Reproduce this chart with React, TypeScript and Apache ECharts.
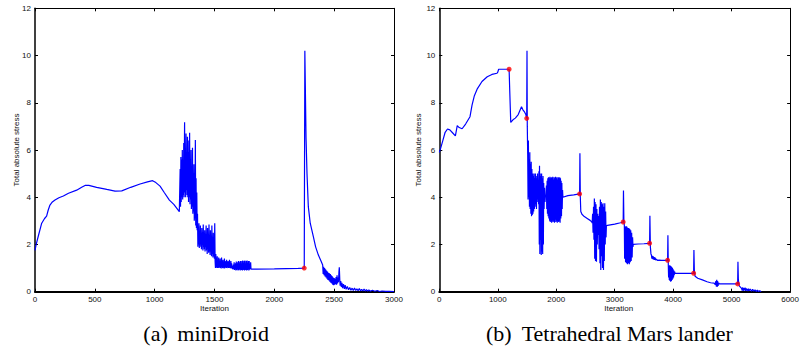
import React, { useEffect, useRef } from "react";
import * as echarts from "echarts";

// ---------- miniDroid (a) ----------
const droidRise: [number, number][] = [
  [0, 1.75], [10, 2.0], [30, 2.4], [56, 2.9], [80, 3.1], [97, 3.2], [110, 3.45], [125, 3.67], [145, 3.8],
  [167, 3.88], [200, 3.98], [237, 4.05], [280, 4.17], [348, 4.3], [390, 4.42], [418, 4.5], [450, 4.5],
  [515, 4.42], [600, 4.33], [669, 4.26], [725, 4.27], [800, 4.42], [878, 4.56], [940, 4.65], [983, 4.7],
  [1010, 4.62], [1045, 4.47], [1080, 4.2], [1123, 3.88], [1160, 3.7], [1206, 3.39],
];
const droidBurst1: [number, number][] = [
  [1210, 3.4], [1213, 5.2], [1216, 3.6], [1219, 5.7], [1222, 3.8], [1225, 5.6], [1228, 4.0], [1231, 6.0],
  [1234, 3.9], [1237, 5.4], [1240, 4.1], [1243, 6.3], [1246, 4.0], [1250, 7.17], [1253, 4.2], [1256, 5.8],
  [1259, 4.0], [1262, 6.7], [1265, 4.3], [1268, 5.5], [1271, 4.1], [1274, 6.56], [1277, 4.0], [1280, 5.9],
  [1283, 3.8], [1286, 6.4], [1289, 4.0], [1292, 6.73], [1295, 3.7], [1298, 5.6], [1301, 3.9], [1304, 6.0],
  [1307, 3.5], [1310, 5.2], [1313, 3.6], [1316, 6.1], [1319, 3.3], [1322, 5.0], [1325, 3.4], [1328, 5.4],
  [1331, 3.0], [1334, 4.6], [1337, 3.1], [1340, 6.42], [1343, 2.8], [1346, 4.8], [1349, 2.7], [1352, 4.2],
  [1355, 2.6],
];
const droidBurst2: [number, number][] = [
  [1358, 3.3], [1361, 1.9], [1364, 2.7], [1367, 2.0], [1370, 2.9], [1373, 1.85], [1376, 2.5], [1379, 2.0],
  [1382, 2.8], [1385, 1.9], [1388, 2.4], [1391, 1.8], [1394, 2.7], [1397, 2.0], [1400, 2.5], [1403, 1.75],
  [1406, 2.85], [1409, 1.9], [1412, 2.3], [1415, 1.8], [1418, 2.6], [1421, 1.7], [1424, 2.4], [1427, 1.9],
  [1430, 2.8], [1433, 1.75], [1436, 2.3], [1439, 1.6], [1442, 2.7], [1445, 1.8], [1448, 2.2], [1451, 1.65],
  [1454, 2.85], [1457, 1.7], [1460, 2.3], [1463, 1.55], [1466, 2.6], [1469, 1.7], [1472, 2.1], [1475, 1.5],
  [1478, 2.8], [1481, 1.6], [1484, 2.2], [1487, 1.45], [1490, 2.5], [1493, 1.5], [1496, 2.0], [1499, 1.4],
  [1502, 2.9], [1505, 1.3],
];
const droidBurst3: [number, number][] = [
  [1508, 1.0], [1511, 1.6], [1514, 1.0], [1517, 1.45], [1520, 1.05], [1523, 1.5], [1526, 1.0], [1529, 1.3],
  [1532, 1.02], [1535, 1.45], [1538, 1.0], [1541, 1.25], [1544, 1.05], [1547, 1.4], [1550, 1.0], [1553, 1.3],
  [1556, 0.98], [1559, 1.45], [1562, 1.05], [1565, 1.2], [1568, 1.0], [1571, 1.35], [1574, 1.02], [1577, 1.25],
  [1580, 0.98], [1583, 1.4], [1586, 1.0], [1589, 1.2], [1592, 1.05], [1595, 1.3], [1598, 1.0], [1601, 1.35],
  [1604, 1.0], [1607, 1.2], [1610, 1.05], [1613, 1.3], [1616, 1.0], [1619, 1.25], [1622, 1.02], [1625, 1.35],
  [1628, 1.0], [1631, 1.15], [1634, 1.0], [1637, 1.3], [1640, 0.98], [1643, 1.2], [1646, 1.0], [1649, 1.1],
  [1652, 0.95],
];
const droidBurst4: [number, number][] = [
  [1655, 1.0], [1658, 1.15], [1661, 0.95], [1664, 1.25], [1667, 0.92], [1670, 1.1], [1673, 0.95], [1676, 1.2],
  [1679, 0.9], [1682, 1.28], [1685, 0.92], [1688, 1.05], [1691, 0.95], [1694, 1.25], [1697, 0.9], [1700, 1.3],
  [1703, 0.92], [1706, 1.1], [1709, 0.95], [1712, 1.28], [1715, 0.9], [1718, 1.3], [1721, 0.93], [1724, 1.05],
  [1727, 0.92], [1730, 1.3], [1733, 0.9], [1736, 1.32], [1739, 0.92], [1742, 1.1], [1745, 0.93], [1748, 1.3],
  [1751, 0.9], [1754, 1.32], [1757, 0.92], [1760, 1.05], [1763, 0.93], [1766, 1.3], [1769, 0.9], [1772, 1.32],
  [1775, 0.92], [1778, 1.1], [1781, 0.94], [1784, 1.3], [1787, 0.9], [1790, 1.3], [1793, 0.93], [1796, 1.15],
  [1799, 0.95], [1802, 1.25], [1805, 0.96],
];
const droidPlateau: [number, number][] = [
  [1850, 0.96], [2000, 0.97], [2100, 0.98], [2200, 0.99], [2250, 1.0],
];
const droidSpike: [number, number][] = [
  [2255, 10.2], [2265, 6.5], [2273, 5.0], [2284, 3.6], [2300, 2.9], [2326, 2.33], [2345, 1.9], [2368, 1.55],
  [2390, 1.3], [2404, 1.13],
];
const droidTail: [number, number][] = [
  [2408, 0.75], [2412, 1.05], [2416, 0.7], [2420, 1.0], [2424, 0.65], [2428, 0.95], [2432, 0.6], [2436, 0.9],
  [2440, 0.55], [2444, 0.85], [2448, 0.5], [2452, 0.8], [2456, 0.48], [2460, 0.78], [2464, 0.42], [2468, 0.75],
  [2472, 0.38], [2476, 0.7], [2480, 0.35], [2484, 0.65], [2488, 0.3], [2492, 0.6], [2496, 0.28], [2500, 0.58],
  [2504, 0.3], [2508, 0.55], [2512, 0.32], [2516, 0.62], [2520, 0.3], [2524, 0.7], [2528, 0.35], [2532, 0.6],
  [2536, 0.4], [2540, 0.85], [2543, 1.03], [2547, 0.5], [2550, 0.25], [2555, 0.45], [2560, 0.2], [2565, 0.38],
  [2570, 0.15], [2578, 0.32], [2585, 0.12], [2592, 0.28], [2600, 0.1], [2610, 0.22], [2620, 0.08], [2630, 0.18],
  [2640, 0.06], [2650, 0.15], [2660, 0.05], [2670, 0.16], [2680, 0.05], [2690, 0.12], [2700, 0.04], [2710, 0.13],
  [2720, 0.04], [2730, 0.1], [2740, 0.03], [2750, 0.11], [2760, 0.03], [2770, 0.09], [2780, 0.02], [2790, 0.08],
  [2800, 0.02], [2820, 0.06], [2840, 0.02], [2860, 0.05], [2880, 0.01], [2900, 0.03], [2930, 0.01], [2960, 0.02],
  [3000, 0.0],
];
const droidMarks: [number, number][] = [[2250, 1.0]];

// ---------- Tetrahedral Mars lander (b) ----------
const marsRise: [number, number][] = [
  [0, 5.9], [20, 6.05], [60, 6.4], [100, 6.75], [140, 6.89], [180, 6.85], [230, 6.72], [275, 6.6], [290, 6.8],
  [307, 7.03], [340, 6.95], [390, 6.9], [450, 7.1], [525, 7.41], [560, 7.9], [600, 8.3], [652, 8.6], [730, 8.9],
  [820, 9.1], [900, 9.2], [987, 9.25], [1000, 9.3], [1015, 9.42], [1100, 9.42], [1194, 9.42], [1205, 8.5],
  [1222, 7.17], [1260, 7.28], [1300, 7.35], [1350, 7.5], [1406, 7.83], [1430, 7.7], [1460, 7.6], [1480, 7.5],
  [1495, 7.34], [1500, 10.2], [1505, 7.0],
];
const marsBurstA: [number, number][] = [
  [1512, 5.8], [1518, 3.9], [1524, 6.4], [1530, 4.0], [1536, 5.6], [1542, 3.6], [1548, 5.9], [1554, 3.5],
  [1560, 5.4], [1566, 3.3], [1572, 5.5], [1578, 3.2], [1584, 5.2], [1590, 3.25], [1596, 5.0], [1602, 3.3],
  [1608, 4.9], [1614, 3.4], [1620, 5.0], [1626, 3.5], [1632, 4.8], [1638, 3.6], [1644, 5.0], [1650, 3.7],
  [1656, 4.9], [1662, 3.5], [1668, 4.8], [1674, 3.8], [1680, 5.0], [1686, 3.9], [1692, 4.7], [1698, 3.7],
  [1704, 5.1], [1710, 2.0], [1714, 5.33], [1720, 1.6], [1726, 5.0], [1732, 2.2], [1738, 4.9], [1744, 1.55],
  [1750, 5.0], [1756, 1.7], [1762, 4.8], [1768, 1.6], [1774, 4.9], [1780, 2.0], [1786, 4.6], [1792, 3.5],
  [1800, 4.4], [1808, 3.8], [1816, 4.1], [1824, 4.0],
];
const marsBurstB: [number, number][] = [
  [1832, 4.5], [1838, 3.5], [1844, 4.7], [1850, 3.3], [1856, 4.8], [1862, 3.2], [1868, 4.85], [1874, 3.1],
  [1880, 4.8], [1886, 3.0], [1892, 4.87], [1898, 2.95], [1904, 4.8], [1910, 3.0], [1916, 4.85], [1922, 2.92],
  [1928, 4.8], [1934, 3.0], [1940, 4.87], [1946, 2.95], [1952, 4.75], [1958, 3.0], [1964, 4.85], [1970, 2.92],
  [1976, 4.8], [1982, 3.05], [1988, 4.87], [1994, 2.95], [2000, 4.8], [2006, 3.0], [2012, 4.85], [2018, 2.92],
  [2024, 4.75], [2030, 3.0], [2036, 4.85], [2042, 2.95], [2048, 4.8], [2054, 3.0], [2060, 4.85], [2066, 2.92],
  [2072, 4.8], [2078, 3.1], [2084, 4.7], [2090, 3.2], [2096, 4.6], [2102, 3.5], [2108, 4.3], [2114, 4.0],
  [2200, 4.07], [2300, 4.1], [2400, 4.14], [2405, 5.86], [2412, 4.0], [2420, 3.4], [2440, 3.28], [2480, 3.18],
  [2530, 3.1], [2580, 3.02], [2610, 2.95],
];
const marsBurstC: [number, number][] = [
  [2615, 2.9], [2622, 3.3], [2630, 2.5], [2638, 3.6], [2645, 2.2], [2652, 3.95], [2658, 1.4], [2665, 3.8],
  [2672, 1.3], [2680, 3.7], [2688, 1.27], [2695, 3.5], [2702, 2.0], [2710, 3.3], [2718, 2.4], [2725, 3.2],
  [2732, 1.8], [2740, 3.6], [2748, 1.2], [2755, 3.9], [2762, 0.92], [2770, 3.8], [2778, 1.5], [2785, 3.7],
  [2792, 1.0], [2800, 3.75], [2808, 0.92], [2815, 3.6], [2822, 1.3], [2830, 3.75], [2838, 2.0], [2845, 3.4],
  [2852, 2.3], [2858, 2.8], [2900, 2.82], [3000, 2.86], [3100, 2.92], [3145, 2.95], [3150, 4.28], [3157, 3.0],
  [3165, 2.8],
];
const marsBurstD: [number, number][] = [
  [3170, 1.4], [3178, 2.75], [3186, 1.25], [3194, 2.78], [3202, 1.2], [3210, 2.75], [3218, 1.16], [3226, 2.7],
  [3234, 1.2], [3242, 2.7], [3250, 1.16], [3258, 2.65], [3266, 1.25], [3274, 2.6], [3282, 1.3], [3290, 2.5],
  [3298, 1.45], [3306, 2.3], [3312, 1.9], [3318, 2.0], [3400, 2.02], [3500, 2.03], [3597, 2.05], [3602, 3.22],
  [3610, 1.9], [3620, 1.6], [3628, 1.55], [3636, 1.4], [3644, 1.52], [3652, 1.38], [3660, 1.5], [3668, 1.36],
  [3676, 1.47], [3684, 1.35], [3692, 1.44], [3700, 1.34], [3715, 1.38], [3730, 1.33], [3760, 1.34], [3800, 1.33],
  [3860, 1.33], [3905, 1.33], [3910, 2.39], [3916, 1.2],
];
const marsBurstE: [number, number][] = [
  [3922, 0.6], [3928, 1.1], [3934, 0.5], [3940, 1.12], [3946, 0.45], [3952, 1.1], [3958, 0.42], [3964, 1.08],
  [3970, 0.45], [3976, 1.05], [3982, 0.5], [3988, 1.0], [3994, 0.55], [4000, 0.95], [4006, 0.6], [4012, 0.9],
  [4018, 0.7], [4025, 0.85], [4032, 0.78], [4150, 0.78], [4250, 0.78], [4350, 0.78], [4355, 1.77], [4362, 0.9],
  [4375, 0.65], [4420, 0.57], [4500, 0.5], [4580, 0.42], [4640, 0.38], [4700, 0.36], [4720, 0.3], [4730, 0.45],
  [4738, 0.22], [4745, 0.5], [4752, 0.2], [4760, 0.45], [4768, 0.25], [4776, 0.38], [4790, 0.33], [4900, 0.33],
  [5000, 0.33], [5103, 0.33], [5108, 1.27], [5115, 0.5], [5130, 0.25], [5170, 0.14],
];
const marsTail: [number, number][] = [
  [5180, 0.05], [5190, 0.18], [5200, 0.04], [5210, 0.15], [5220, 0.06], [5230, 0.17], [5240, 0.03], [5250, 0.14],
  [5260, 0.05], [5270, 0.12], [5280, 0.03], [5290, 0.13], [5300, 0.04], [5320, 0.11], [5340, 0.02], [5360, 0.1],
  [5380, 0.02], [5400, 0.08], [5420, 0.01], [5440, 0.06], [5460, 0.01], [5480, 0.04], [5505, 0.0],
];
const marsMarks: [number, number][] = [
  [1194, 9.42], [1495, 7.34], [2400, 4.14], [3145, 2.95], [3597, 2.05], [3905, 1.33], [4350, 0.78], [5103, 0.33],
];

const droidLine = [
  ...droidRise, ...droidBurst1, ...droidBurst2, ...droidBurst3, ...droidBurst4,
  ...droidPlateau, ...droidSpike, ...droidTail,
];
const marsLine = [
  ...marsRise, ...marsBurstA, ...marsBurstB, ...marsBurstC, ...marsBurstD, ...marsBurstE, ...marsTail,
];

const yTitle = "Total absolute stress";
const xTitle = "Iteration";
const captionsA = ["(a)", "miniDroid"];
const captionsB = ["(b)", "Tetrahedral Mars lander"];

const SANS = "'Liberation Sans', Arial, Helvetica, sans-serif";
const SERIF = "'Liberation Serif', 'Times New Roman', serif";

const plainNum = (v: number) => String(v);

function xAxes(gridIndex: number, max: number, interval: number) {
  const common = {
    gridIndex,
    type: "value" as const,
    min: 0,
    max,
    interval,
    splitLine: { show: false },
    axisTick: { show: true, inside: true, length: 3, lineStyle: { color: "#000", width: 1 } },
  };
  return [
    {
      ...common,
      position: "bottom",
      axisLine: { show: true, onZero: false, lineStyle: { color: "#000", width: 2 } },
      axisLabel: { show: true, fontSize: 8, fontFamily: SANS, color: "#111", margin: 4, formatter: plainNum },
    },
    {
      ...common,
      position: "top",
      axisLine: { show: true, onZero: false, lineStyle: { color: "#000", width: 1 } },
      axisLabel: { show: false },
    },
  ];
}

function yAxes(gridIndex: number) {
  const common = {
    gridIndex,
    type: "value" as const,
    min: 0,
    max: 12,
    interval: 2,
    splitLine: { show: false },
    axisTick: { show: true, inside: true, length: 3, lineStyle: { color: "#000", width: 1 } },
  };
  return [
    {
      ...common,
      position: "left",
      axisLine: { show: true, onZero: false, lineStyle: { color: "#000", width: 1.5 } },
      axisLabel: { show: true, fontSize: 8, fontFamily: SANS, color: "#111", margin: 4, formatter: plainNum },
    },
    {
      ...common,
      position: "right",
      axisLine: { show: true, onZero: false, lineStyle: { color: "#000", width: 1 } },
      axisLabel: { show: false },
    },
  ];
}

export default function App() {
  const ref = useRef<HTMLDivElement>(null);
  useEffect(() => {
    document.body.style.margin = "0";
    if (!ref.current) return;
    const chart = echarts.init(ref.current, undefined, { renderer: "svg" });
    const plotTop = 8.3;
    const plotH = 283.4;
    const gA = { left: 35, w: 359 };
    const gB = { left: 439.3, w: 358.7 };
    const label = (x: number, y: number, text: string, rot = 0) => ({
      type: "text",
      x,
      y,
      rotation: rot,
      style: { text, fontSize: 8, fontFamily: SANS, fill: "#111", align: "center", verticalAlign: "middle" },
    });
    const cap = (x: number, text: string) => ({
      type: "text",
      x,
      y: 333,
      style: { text, fontSize: 22, fontFamily: SERIF, fill: "#000", align: "left", verticalAlign: "middle" },
    });
    const lineStyle = { color: "#0000ff", width: 1.2 };
    chart.setOption({
      animation: false,
      backgroundColor: "#fff",
      grid: [
        { left: gA.left, top: plotTop, width: gA.w, height: plotH, containLabel: false },
        { left: gB.left, top: plotTop, width: gB.w, height: plotH, containLabel: false },
      ],
      xAxis: [...xAxes(0, 3000, 500), ...xAxes(1, 6000, 1000)],
      yAxis: [...yAxes(0), ...yAxes(1)],
      series: [
        {
          type: "line",
          xAxisIndex: 0,
          yAxisIndex: 0,
          data: droidLine,
          showSymbol: false,
          symbol: "none",
          silent: true,
          lineStyle,
        },
        {
          type: "scatter",
          xAxisIndex: 0,
          yAxisIndex: 0,
          data: droidMarks,
          symbolSize: 5,
          z: 5,
          itemStyle: { color: "#ff0000" },
        },
        {
          type: "line",
          xAxisIndex: 2,
          yAxisIndex: 2,
          data: marsLine,
          showSymbol: false,
          symbol: "none",
          silent: true,
          lineStyle,
        },
        {
          type: "scatter",
          xAxisIndex: 2,
          yAxisIndex: 2,
          data: marsMarks,
          symbolSize: 5,
          z: 5,
          itemStyle: { color: "#ff0000" },
        },
      ],
      graphic: [
        label(16, plotTop + plotH / 2, yTitle, Math.PI / 2),
        label(418.5, plotTop + plotH / 2, yTitle, Math.PI / 2),
        label(gA.left + gA.w / 2, 308, xTitle),
        label(gB.left + gB.w / 2, 308, xTitle),
        cap(143.3, captionsA[0]),
        cap(177.3, captionsA[1]),
        cap(486, captionsB[0]),
        cap(521.7, captionsB[1]),
      ],
    });
    return () => chart.dispose();
  }, []);
  return <div ref={ref} style={{ width: 802, height: 351 }} />;
}
